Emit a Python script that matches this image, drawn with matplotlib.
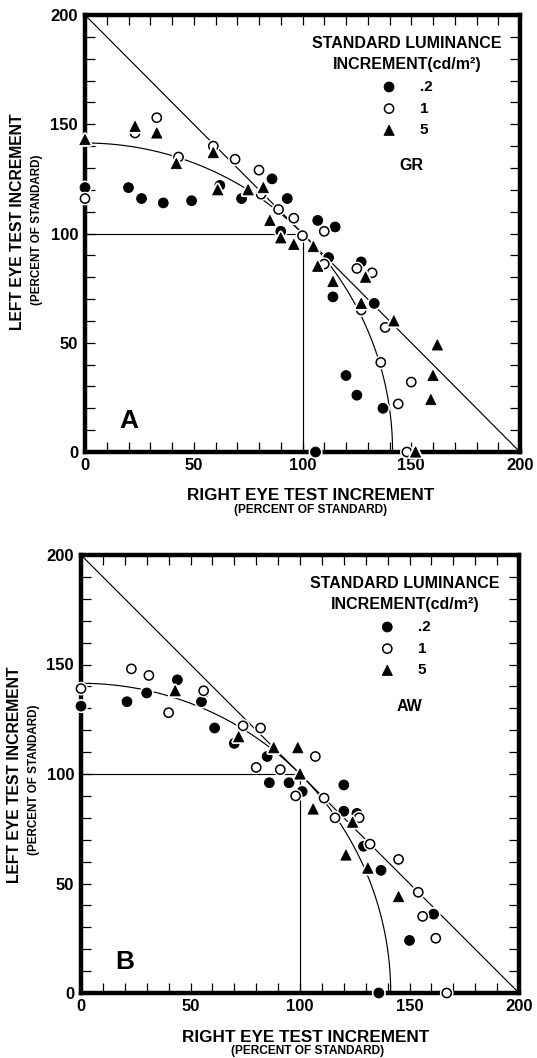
import matplotlib
matplotlib.use('Agg')
import matplotlib.pyplot as plt
import matplotlib.patheffects as pe
import numpy as np

plt.rcParams['font.family'] = ['Liberation Sans', 'DejaVu Sans']
plt.rcParams['font.weight'] = 'bold'

# ---------------- data ----------------
# Panel A, subject GR  (right eye %, left eye %)
A_dot_x = [0, 20, 26, 36, 49, 62, 72, 86, 93, 90, 107, 115, 112, 127, 114, 133, 138, 120, 125, 137, 106]
A_dot_y = [121, 121, 116, 114, 115, 122, 116, 125, 116, 101, 106, 103, 89, 87, 71, 68, 57, 35, 26, 20, 0]
A_open_x = [0, 23, 33, 43, 59, 69, 80, 81, 89, 96, 100, 110, 110, 125, 132, 127, 138, 136, 150, 144, 148]
A_open_y = [116, 146, 153, 135, 140, 134, 129, 118, 111, 107, 99, 101, 86, 84, 82, 65, 57, 41, 32, 22, 0]
A_tri_x = [0, 23, 33, 42, 59, 61, 75, 82, 85, 90, 96, 105, 107, 114, 129, 127, 142, 162, 160, 159, 152]
A_tri_y = [143, 149, 146, 132, 137, 120, 120, 121, 106, 98, 95, 94, 85, 78, 80, 68, 60, 49, 35, 24, 0]

# Panel B, subject AW
B_dot_x = [0, 21, 30, 44, 56, 55, 61, 70, 85, 86, 95, 101, 120, 120, 126, 129, 137, 154, 161, 150, 136]
B_dot_y = [131, 133, 137, 143, 137, 133, 121, 114, 108, 96, 96, 92, 95, 83, 82, 67, 56, 46, 36, 24, 0]
B_open_x = [0, 23, 31, 40, 56, 74, 82, 80, 91, 107, 98, 111, 116, 127, 132, 145, 154, 156, 162, 167]
B_open_y = [139, 148, 145, 128, 138, 122, 121, 103, 102, 108, 90, 89, 80, 80, 68, 61, 46, 35, 25, 0]
B_tri_x = [43, 72, 88, 99, 100, 106, 124, 121, 131, 145]
B_tri_y = [138, 117, 112, 112, 100, 84, 78, 63, 57, 44]

levels = ['.2', '1', '5']
subjects = ['GR', 'AW']
panel_letters = ['A', 'B']

# reference lines: complete summation (diagonal) and equal-increment guides
diag_x = [0, 200]
diag_y = [200, 0]
guide_h_x = [0, 100]
guide_h_y = [100, 100]
guide_v_x = [100, 100]
guide_v_y = [0, 100]
# quadratic (vector) summation prediction: x^2 + y^2 = 2 * 100^2
R_quad = 100 * np.sqrt(2)

ticks_major = [0, 50, 100, 150, 200]
ticks_minor = list(range(0, 201, 10))

# ---------------- figure ----------------
fig = plt.figure(figsize=(5.37, 10.58), dpi=100)
axA = fig.add_axes([85 / 537, 1 - 452 / 1058, 435 / 537, 437 / 1058])
axB = fig.add_axes([81 / 537, 1 - 993 / 1058, 438 / 537, 438 / 1058])

halo = [pe.withStroke(linewidth=3.2, foreground='white')]


def draw_panel(ax, dx, dy, ox, oy, tx, ty, subject, letter):
    ax.set_xlim(0, 200)
    ax.set_ylim(0, 200)
    lw = 0.85
    ax.plot(diag_x, diag_y, color='black', lw=lw, zorder=1)
    ax.plot(guide_h_x, guide_h_y, color='black', lw=lw, zorder=1)
    ax.plot(guide_v_x, guide_v_y, color='black', lw=lw, zorder=1)
    th = np.linspace(0, np.pi / 2, 200)
    ax.plot(R_quad * np.cos(th), R_quad * np.sin(th), color='black', lw=lw, zorder=1)

    s1 = ax.scatter(dx, dy, s=48, marker='o', facecolor='black', edgecolor='black',
                    linewidth=0.8, zorder=5, clip_on=False, path_effects=halo)
    s2 = ax.scatter(ox, oy, s=44, marker='o', facecolor='white', edgecolor='black',
                    linewidth=1.1, zorder=5, clip_on=False, path_effects=halo)
    s3 = ax.scatter(tx, ty, s=54, marker='^', facecolor='black', edgecolor='black',
                    linewidth=0.6, zorder=5, clip_on=False, path_effects=halo)

    for sp in ax.spines.values():
        sp.set_linewidth(3.2)
        sp.set_zorder(3)
    ax.set_xticks(ticks_major)
    ax.set_yticks(ticks_major)
    ax.set_xticks(ticks_minor, minor=True)
    ax.set_yticks(ticks_minor, minor=True)
    ax.tick_params(which='both', direction='in', length=7, width=0.9,
                   top=True, right=True, color='black')
    ax.tick_params(axis='x', which='major', labelsize=12, pad=4)
    ax.tick_params(axis='y', which='major', labelsize=12, pad=5)
    for lab in ax.get_xticklabels() + ax.get_yticklabels():
        lab.set_fontweight('bold')

    leg = ax.legend([s1, s2, s3], levels, title='STANDARD LUMINANCE\nINCREMENT(cd/m²)',
                    loc='upper center', bbox_to_anchor=(148, 194), bbox_transform=ax.transData,
                    frameon=False, borderpad=0, handlelength=1.0, handletextpad=1.5,
                    labelspacing=0.5, prop={'weight': 'bold', 'size': 11},
                    title_fontproperties={'weight': 'bold', 'size': 11.5})
    leg.get_title().set_multialignment('center')
    leg.get_title().set_linespacing(1.55)
    leg.set_zorder(6)
    ax.text(150, 131, subject, fontsize=11.5, fontweight='bold', ha='center', va='center')
    ax.text(20, 14, letter, fontsize=19, fontweight='bold', ha='center', va='center')


draw_panel(axA, A_dot_x, A_dot_y, A_open_x, A_open_y, A_tri_x, A_tri_y, subjects[0], panel_letters[0])
draw_panel(axB, B_dot_x, B_dot_y, B_open_x, B_open_y, B_tri_x, B_tri_y, subjects[1], panel_letters[1])

W, H = 537, 1058
main_lab = 'RIGHT EYE TEST INCREMENT'
sub_lab = '(PERCENT OF STANDARD)'
left_lab = 'LEFT EYE TEST INCREMENT'

# panel A labels
fig.text(311 / W, 1 - 496 / H, main_lab, fontsize=12.3, fontweight='bold', ha='center', va='center')
fig.text(311 / W, 1 - 510 / H, sub_lab, fontsize=8.6, fontweight='bold', ha='center', va='center')
fig.text(18 / W, 1 - 222 / H, left_lab, fontsize=11.3, fontweight='bold', ha='center', va='center', rotation=90)
fig.text(37 / W, 1 - 230 / H, sub_lab, fontsize=8.4, fontweight='bold', ha='center', va='center', rotation=90)
# panel B labels
fig.text(306 / W, 1 - 1037 / H, main_lab, fontsize=12.3, fontweight='bold', ha='center', va='center')
fig.text(308 / W, 1 - 1051 / H, sub_lab, fontsize=8.6, fontweight='bold', ha='center', va='center')
fig.text(15 / W, 1 - 775 / H, left_lab, fontsize=11.3, fontweight='bold', ha='center', va='center', rotation=90)
fig.text(34 / W, 1 - 780 / H, sub_lab, fontsize=8.4, fontweight='bold', ha='center', va='center', rotation=90)

fig.savefig('out.png', dpi=100, facecolor='white')
